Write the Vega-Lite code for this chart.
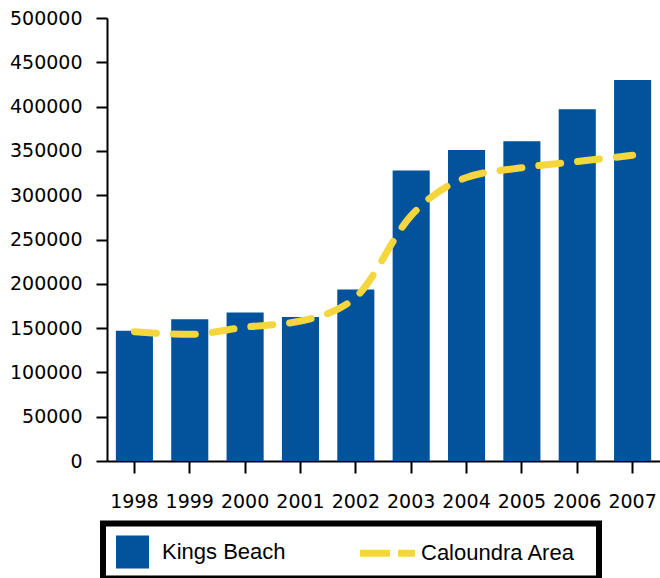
{
  "$schema": "https://vega.github.io/schema/vega-lite/v6.json",
  "autosize": "none",
  "padding": {"left": 107, "top": 18, "right": 0, "bottom": 117},
  "width": 553,
  "height": 443,
  "background": "white",
  "config": {
    "view": {"stroke": null},
    "axis": {"grid": false, "domainColor": "black", "domainWidth": 2, "tickColor": "black", "tickWidth": 2, "labelFont": "DejaVu Sans", "labelFontSize": 19, "labelColor": "black", "title": null}
  },
  "data": {"values": [
    {"year": "1998", "kings": 147000, "caloundra": 146000},
    {"year": "1999", "kings": 160000, "caloundra": 143000},
    {"year": "2000", "kings": 167500, "caloundra": 151000},
    {"year": "2001", "kings": 162500, "caloundra": 158000},
    {"year": "2002", "kings": 193500, "caloundra": 185000},
    {"year": "2003", "kings": 328000, "caloundra": 277000},
    {"year": "2004", "kings": 351000, "caloundra": 320000},
    {"year": "2005", "kings": 361000, "caloundra": 331000},
    {"year": "2006", "kings": 397000, "caloundra": 338000},
    {"year": "2007", "kings": 430000, "caloundra": 345000}
  ]},
  "encoding": {
    "x": {"field": "year", "type": "ordinal", "scale": {"paddingInner": 0.33, "paddingOuter": 0.16},
      "axis": {"labelAngle": 0, "tickSize": 12, "labelPadding": 19, "domainWidth": 2}}
  },
  "layer": [
    {
      "mark": {"type": "bar"},
      "encoding": {
        "y": {"field": "kings", "type": "quantitative", "scale": {"domain": [0, 500000], "nice": false},
          "axis": {"values": [0, 50000, 100000, 150000, 200000, 250000, 300000, 350000, 400000, 450000, 500000], "format": "d", "tickSize": 11, "labelPadding": 14}},
        "color": {"datum": "Kings Beach", "type": "nominal",
          "scale": {"domain": ["Kings Beach", "Caloundra Area"], "range": ["#02539c", "#f5d63d"]},
          "legend": {
            "title": null, "orient": "none", "legendX": -4, "legendY": 505.5, "direction": "horizontal",
            "strokeColor": "black", "padding": 10, "fillColor": "white",
            "labelFont": "Liberation Sans", "labelFontSize": 22, "labelColor": "black",
            "symbolSize": 1089, "labelOffset": 24, "columnPadding": 60, "symbolOffset": 3,
            "encode": {
              "legend": {"update": {"strokeWidth": {"value": 6}}},
              "symbols": {"update": {
                "shape": {"signal": "datum.value === 'Caloundra Area' ? 'stroke' : 'square'"},
                "size": {"signal": "datum.value === 'Caloundra Area' ? 46010 : 1089"},
                "x": {"signal": "datum.value === 'Caloundra Area' ? 120.25 : 19.5"},
                "y": {"value": 18.5},
                "fill": {"signal": "datum.value === 'Caloundra Area' ? 'transparent' : '#02539c'"},
                "stroke": {"signal": "datum.value === 'Caloundra Area' ? '#f5d63d' : 'transparent'"},
                "strokeWidth": {"signal": "datum.value === 'Caloundra Area' ? 7 : 0"},
                "strokeDash": {"signal": "datum.value === 'Caloundra Area' ? [30, 8, 17, 1000] : [1, 0]"},
                "opacity": {"value": 1}
              }},
              "labels": {"update": {
                "y": {"value": 18.5},
                "dx": {"signal": "datum.value === 'Caloundra Area' ? 25 : 0"}
              }}
            }
          }
        }
      }
    },
    {
      "mark": {"type": "line", "interpolate": "monotone", "strokeWidth": 7, "strokeDash": [22, 17], "strokeCap": "round"},
      "encoding": {
        "y": {"field": "caloundra", "type": "quantitative"},
        "color": {"datum": "Caloundra Area", "type": "nominal"}
      }
    }
  ]
}
